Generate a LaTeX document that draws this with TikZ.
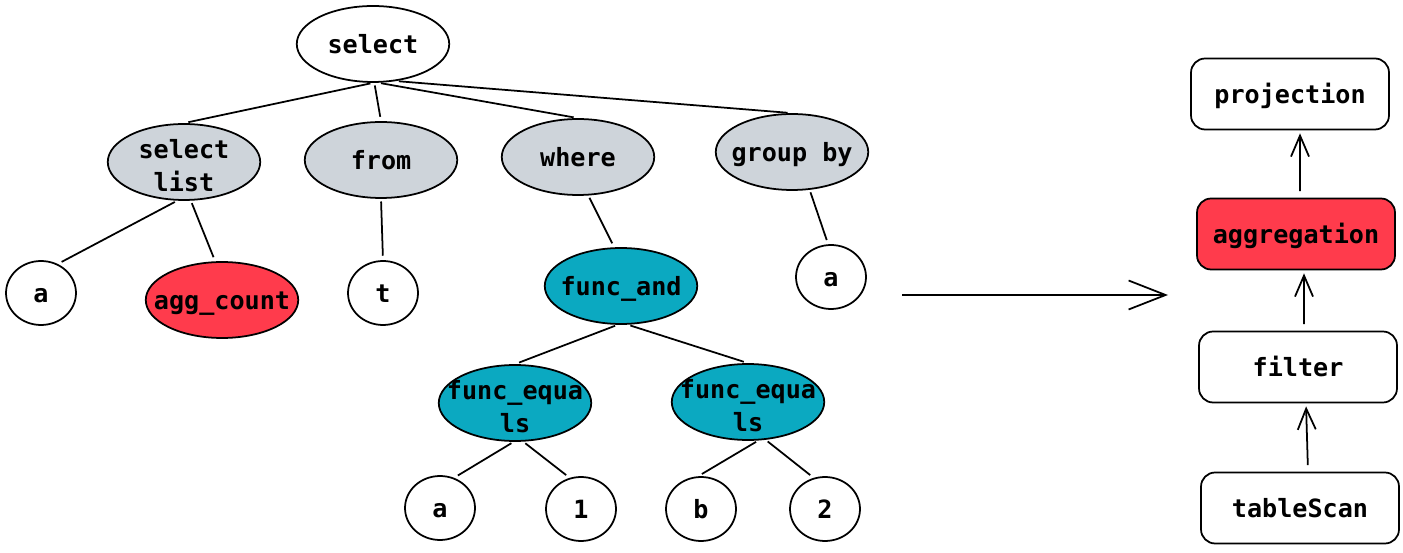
\documentclass[tikz,border=0pt]{standalone}
\usepackage{fontspec}
\setmonofont{DejaVu Sans Mono}
\usetikzlibrary{shapes.geometric,arrows.meta}
\definecolor{gfill}{HTML}{CED4DA}
\definecolor{tfill}{HTML}{0BA9C1}
\definecolor{rfill}{HTML}{FF3B4C}
\begin{document}
\begin{tikzpicture}[x=0.02cm,y=-0.02cm,
  font=\ttfamily\bfseries\fontsize{14.3}{17.5}\selectfont,
  oval/.style={ellipse, draw, line width=1pt, inner sep=0pt},
  big/.style={oval, minimum width=3.05cm, minimum height=1.52cm},
  leaf/.style={oval, minimum width=1.4cm, minimum height=1.28cm},
  greyfill/.style={fill=gfill},
  tealfill/.style={fill=tfill},
  redfill/.style={fill=rfill},
  txt/.style={inner sep=0pt, text height=12.8pt, text depth=2pt},
  twotxt/.style={inner sep=0pt, align=center, yshift=-2pt},
  opbox/.style={rectangle, rounded corners=8pt, draw, line width=1pt,
    minimum width=3.96cm, minimum height=1.42cm},
  link/.style={line width=1pt, shorten <=1.5pt, shorten >=2.5pt},
  uparr/.style={line width=1pt, -{Straight Barb[length=0.42cm,width=0.36cm]},
    shorten <=0.13cm, shorten >=0.06cm}]
\useasboundingbox (0,0) rectangle (1403,553);

% tree nodes (shapes)
\node[big] (select) at (373,44) {};
\node[big, greyfill] (sellist) at (184,162) {};
\node[big, greyfill] (from) at (381,160) {};
\node[big, greyfill] (where) at (578,157) {};
\node[big, greyfill] (groupby) at (792,152) {};
\node[leaf] (a1) at (41,293) {};
\node[big, redfill] (agg) at (222,300) {};
\node[leaf] (t) at (383,293) {};
\node[big, tealfill] (funcand) at (621,286) {};
\node[leaf] (a2) at (831,277) {};
\node[big, tealfill] (feL) at (515,403) {};
\node[big, tealfill] (feR) at (748,402) {};
\node[leaf] (a3) at (440,508) {};
\node[leaf] (one) at (581,509) {};
\node[leaf] (b) at (701,509) {};
\node[leaf] (two) at (825,509) {};

% tree node texts
\node[txt] (selectT) at (select) {select};
\node[twotxt] (sellistT) at (sellist) {select\\[1.5pt]list};
\node[txt] (fromT) at (from) {from};
\node[txt] (whereT) at (where) {where};
\node[txt] (groupbyT) at (groupby) {group by};
\node[txt] (a1T) at (a1) {a};
\node[txt] (aggT) at (agg) {agg\_count};
\node[txt] (tT) at (t) {t};
\node[txt] (funcandT) at (funcand) {func\_and};
\node[txt] (a2T) at (a2) {a};
\node[twotxt] (feLT) at (feL) {func\_equa\\[1.5pt]ls};
\node[twotxt] (feRT) at (feR) {func\_equa\\[1.5pt]ls};
\node[txt] (a3T) at (a3) {a};
\node[txt] (oneT) at (one) {1};
\node[txt] (bT) at (b) {b};
\node[txt] (twoT) at (two) {2};

% tree edges
\draw[link] (select.south) -- (sellist.north);
\draw[link] (select.-88) -- (from.north);
\draw[link] (select.-82) -- (where.north);
\draw[link] (select.-58) -- (groupby.north);
\draw[link] (sellist.-100) -- (a1.60);
\draw[link] (sellist.-80) -- (agg.100);
\draw[link] (from.south) -- (t.north);
\draw[link] (where.-75) -- (funcand.100);
\draw[link] (groupby.-65) -- (a2.95);
\draw[link] (funcand.-95) -- (feL.north);
\draw[link] (funcand.-80) -- (feR.north);
\draw[link] (feL.-92) -- (a3.65);
\draw[link] (feL.-78) -- (one.110);
\draw[link] (feR.-75) -- (b.95);
\draw[link] (feR.-65) -- (two.110);

% big arrow
\coordinate (bs) at (902,295);
\coordinate (be) at (1168,295);
\draw[line width=1pt, -{Straight Barb[length=0.74cm,width=0.58cm]}] (bs) -- (be);

% operator boxes
\node[opbox] (proj) at (1290,94) {};
\node[opbox, redfill] (aggr) at (1296,234) {};
\node[opbox] (filter) at (1298,367) {};
\node[opbox] (scan) at (1300,508) {};
\node[txt] (projT) at (proj) {projection};
\node[txt] (aggrT) at (aggr) {aggregation};
\node[txt] (filterT) at (filter) {filter};
\node[txt] (scanT) at (scan) {tableScan};

\draw[uparr] ([xshift=0.16cm]scan.north) -- ([xshift=0.16cm]filter.south);
\draw[uparr] ([xshift=0.12cm]filter.north) -- ([xshift=0.16cm]aggr.south);
\draw[uparr] ([xshift=0.08cm]aggr.north) -- ([xshift=0.2cm]proj.south);
\end{tikzpicture}
\end{document}
